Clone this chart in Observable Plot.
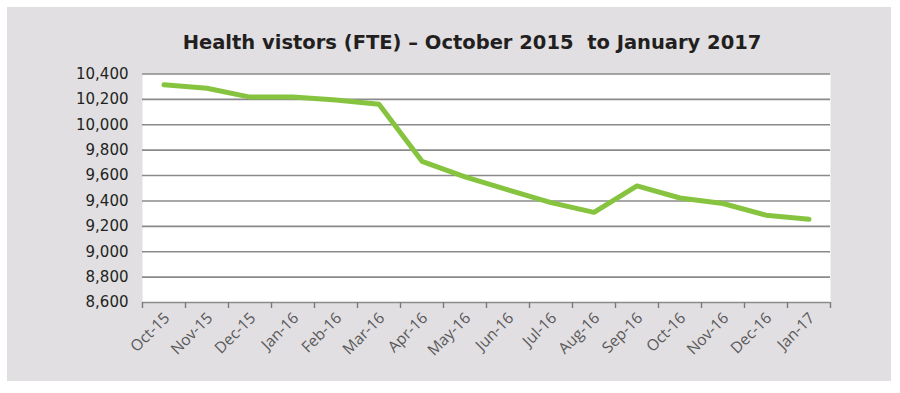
<!DOCTYPE html>
<html>
<head>
<meta charset="utf-8">
<script src="https://cdn.jsdelivr.net/npm/d3@7"></script>
<script src="https://cdn.jsdelivr.net/npm/@observablehq/plot@0.6"></script>
<style>
  html, body { margin: 0; padding: 0; background: #ffffff; }
  #wrap { position: relative; width: 900px; height: 393px; overflow: hidden; }
  #panel { position: absolute; left: 7px; top: 7px; width: 884px; height: 374px; background: #e1dfe2; }
  #title { position: absolute; left: 0; width: 944px; top: 31px; text-align: center;
           font-family: "DejaVu Sans", sans-serif; font-weight: bold; font-size: 19.5px; line-height: 24px; color: #231f20;
           white-space: pre; }
  #chart { position: absolute; left: 0; top: 0; }
</style>
</head>
<body>
<div id="wrap">
  <div id="panel"></div>
  <div id="title">Health vistors (FTE) – October 2015  to January 2017</div>
  <div id="chart"></div>
</div>
<script>
const months = ["Oct-15", "Nov-15", "Dec-15", "Jan-16", "Feb-16", "Mar-16", "Apr-16", "May-16",
                "Jun-16", "Jul-16", "Aug-16", "Sep-16", "Oct-16", "Nov-16", "Dec-16", "Jan-17"];
const values = [10315, 10288, 10218, 10218, 10195, 10162, 9712, 9590,
                9487, 9387, 9310, 9518, 9423, 9380, 9288, 9256];
const yTicks = [8600, 8800, 9000, 9200, 9400, 9600, 9800, 10000, 10200, 10400];

const data = months.map((m, i) => ({i, month: m, value: values[i]}));
const centers = months.map((m, i) => i);
const boundaries = d3.range(months.length + 1).map(i => i - 0.5);
const fmt = d3.format(",");

const chart = Plot.plot({
  width: 900,
  height: 393,
  marginLeft: 142,
  marginRight: 70,
  marginTop: 73.5,
  marginBottom: 91,
  style: {background: "transparent", overflow: "visible"},
  x: {domain: [-0.5, months.length - 0.5]},
  y: {domain: [8600, 10400]},
  marks: [
    Plot.frame({fill: "white", stroke: null}),
    Plot.ruleY(yTicks, {stroke: "#8a8a8a", strokeWidth: 1.6, strokeOpacity: 1}),
    Plot.axisY({ticks: yTicks, tickFormat: fmt, tickSize: 0, tickPadding: 14, label: null,
                fontSize: 15, fontFamily: "DejaVu Sans", fill: "#231f20"}),
    Plot.axisX({ticks: boundaries, tickSize: 6, tickFormat: () => "", label: null,
                stroke: "#7a7a7a", strokeWidth: 1.4, strokeOpacity: 1}),
    Plot.axisX({ticks: centers, tickFormat: i => months[i], tickSize: 0, tickPadding: 13, dx: 3,
                tickRotate: -45, label: null, fontSize: 15.5, fontFamily: "Open Sans", fill: "#595959"}),
    Plot.line(data, {x: "i", y: "value", stroke: "#86c440", strokeWidth: 5, strokeLinejoin: "round", strokeLinecap: "round"})
  ]
});
document.getElementById("chart").appendChild(chart);
</script>
</body>
</html>
